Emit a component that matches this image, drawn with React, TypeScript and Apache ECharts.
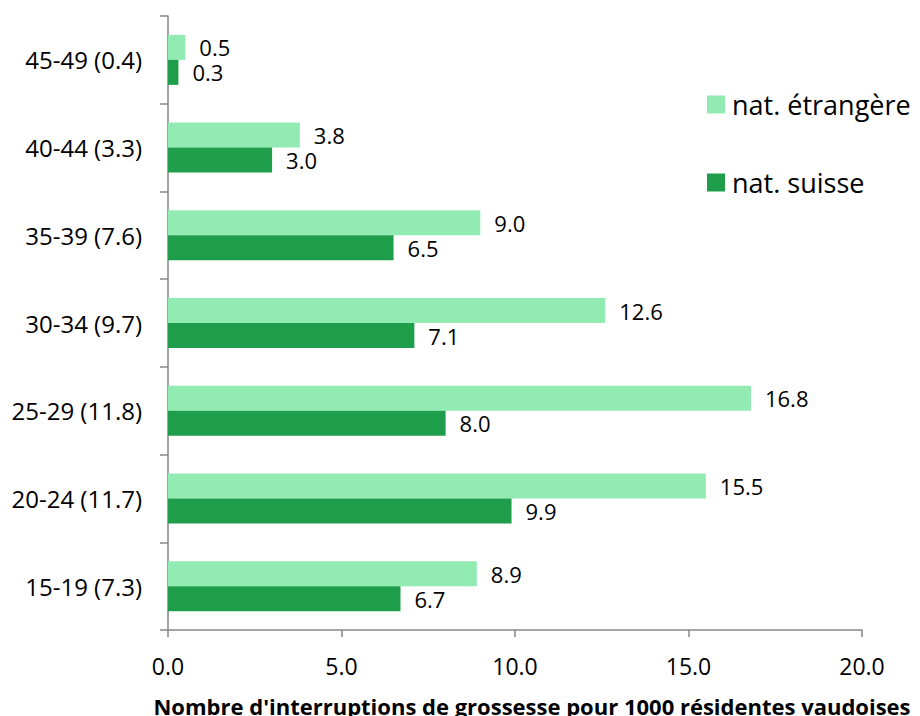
import React, { useEffect, useRef } from "react";
import * as echarts from "echarts";

// Age groups with the overall rate (all nationalities) shown in brackets
const ageGroups = ["15-19", "20-24", "25-29", "30-34", "35-39", "40-44", "45-49"];
const overallRates = [7.3, 11.7, 11.8, 9.7, 7.6, 3.3, 0.4];

// Rates per 1000 resident women, by nationality
const foreignRates = [8.9, 15.5, 16.8, 12.6, 9.0, 3.8, 0.5];
const swissRates = [6.7, 9.9, 8.0, 7.1, 6.5, 3.0, 0.3];

const seriesNames = ["nat. étrangère", "nat. suisse"];
const xTicks = [0, 5, 10, 15, 20];
const axisTitle = "Nombre d'interruptions de grossesse pour 1000 résidentes vaudoises";

const FONT = "'Open Sans', sans-serif";
const LIGHT = "#92ebb2";
const DARK = "#1e9e4a";
const AXIS = "#868686";

export default function App() {
  const ref = useRef<HTMLDivElement>(null);

  useEffect(() => {
    document.body.style.margin = "0";
    if (!ref.current) return;
    const chart = echarts.init(ref.current, undefined, { renderer: "svg" });
    const categories = ageGroups.map((g, i) => `${g} (${overallRates[i].toFixed(1)})`);

    const barLabel = {
      show: true,
      position: "right" as const,
      distance: 14,
      color: "#000",
      fontFamily: FONT,
      fontSize: 22,
      lineHeight: 20,
      formatter: (p: any) => Number(p.value).toFixed(1),
    };

    chart.setOption({
      animation: false,
      textStyle: { fontFamily: FONT },
      grid: {
        left: 168,
        right: 58,
        top: 16,
        bottom: 86,
        containLabel: false,
        outerBoundsMode: "none",
      },
      legend: {
        orient: "vertical",
        left: 702,
        top: 86,
        itemWidth: 18,
        itemHeight: 18,
        itemGap: 51,
        icon: "rect",
        data: seriesNames,
        textStyle: { fontFamily: FONT, fontSize: 27, color: "#000", padding: [0, 0, 0, 2] },
      },
      xAxis: {
        type: "value",
        min: xTicks[0],
        max: xTicks[xTicks.length - 1],
        interval: xTicks[1] - xTicks[0],
        splitLine: { show: false },
        axisLine: { show: true, lineStyle: { color: AXIS, width: 1.5 } },
        axisTick: { show: true, length: 7, lineStyle: { color: AXIS, width: 1.5 } },
        axisLabel: {
          color: "#000",
          fontFamily: FONT,
          fontSize: 23,
          margin: 24,
          formatter: (v: number) => v.toFixed(1),
        },
        name: axisTitle,
        nameLocation: "middle",
        nameGap: 65,
        nameTextStyle: {
          fontFamily: FONT,
          fontSize: 22,
          fontWeight: "bold",
          color: "#000",
          padding: [0, 0, 0, 34],
        },
      },
      yAxis: {
        type: "category",
        data: categories,
        axisLine: { show: true, lineStyle: { color: AXIS, width: 1.5 } },
        axisTick: { show: true, length: 8, inside: false, lineStyle: { color: AXIS, width: 1.5 } },
        axisLabel: { color: "#000", fontFamily: FONT, fontSize: 24, margin: 26 },
      },
      series: [
        {
          name: seriesNames[0],
          type: "bar",
          data: foreignRates,
          barWidth: 25,
          barGap: "0%",
          itemStyle: { color: LIGHT },
          label: barLabel,
        },
        {
          name: seriesNames[1],
          type: "bar",
          data: swissRates,
          barWidth: 25,
          barGap: "0%",
          itemStyle: { color: DARK },
          label: barLabel,
        },
      ],
    });

    return () => chart.dispose();
  }, []);

  return <div ref={ref} style={{ width: 920, height: 716 }} />;
}
